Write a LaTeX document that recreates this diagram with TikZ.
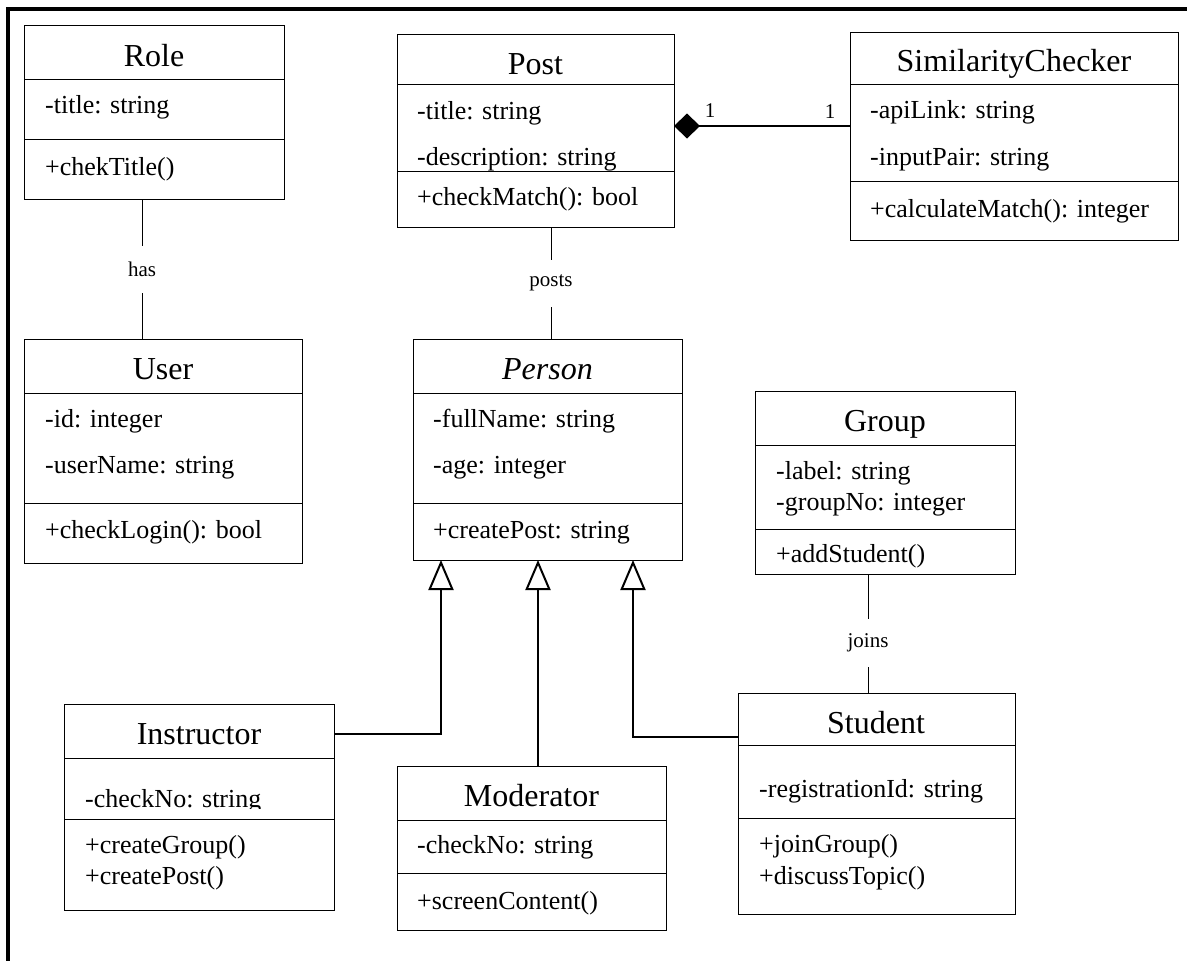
\documentclass[tikz,border=0pt]{standalone}
\usepackage{fontspec}
\setmainfont{Liberation Serif}
\usetikzlibrary{arrows.meta}
\newcommand\umlbox[7]{%
  \node[cls, anchor=north west, minimum width={(#4)-(#2)}, minimum height={(#5)-(#3)}] (#1) at (#2,#3) {};
  \draw[divider] (#2,#6) -- (#4,#6);
  \draw[divider] (#2,#7) -- (#4,#7);%
}
\begin{document}
\begin{tikzpicture}[x=1pt,y=-1pt,
  cls/.style={draw, line width=1pt, inner sep=0pt, outer sep=0pt},
  divider/.style={line width=1pt},
  ctitle/.style={anchor=base, inner sep=0pt, font=\fontsize{32}{38}\selectfont},
  attr/.style={anchor=base west, inner sep=0pt, font=\fontsize{26}{31}\selectfont},
  lbl/.style={fill=white, inner sep=0pt, minimum height=47pt, font=\fontsize{21}{25}\selectfont},
  mult/.style={anchor=base, inner sep=0pt, font=\fontsize{21}{25}\selectfont},
  assoc/.style={line width=1pt},
  gen/.style={line width=2.2pt, -{Triangle[open, length=30pt, width=25pt, line width=2pt]}},
  comp/.style={line width=2.2pt, -{Diamond[length=26pt, width=25pt]}},
  frame/.style={line width=3.5pt}
]
\useasboundingbox (0,0) rectangle (1187,961);
\draw[frame] (8,961) -- (8,9) -- (1187,9);

% Role
\umlbox{role}{24}{25}{284}{199}{79}{139}
\node[ctitle] (role-t) at (154,66) {Role};
\node[attr] (role-a1) at (45,113) {-title: string};
\node[attr] (role-m1) at (45,175) {+chekTitle()};

% User
\umlbox{user}{24}{339}{302}{563}{393}{503}
\node[ctitle] (user-t) at (163,379) {User};
\node[attr] (user-a1) at (45,427) {-id: integer};
\node[attr] (user-a2) at (45,473) {-userName: string};
\node[attr] (user-m1) at (45,538) {+checkLogin(): bool};

% Post
\umlbox{post}{397}{34}{674}{227}{84}{171}
\node[ctitle] (post-t) at (535.5,74) {Post};
\node[attr] (post-a1) at (417,119) {-title: string};
\node[attr] (post-a2) at (417,165) {-description: string};
\node[attr] (post-m1) at (417,205) {+checkMatch(): bool};

% SimilarityChecker
\umlbox{sc}{850}{32}{1178}{240}{84}{181}
\node[ctitle] (sc-t) at (1014,71) {SimilarityChecker};
\node[attr] (sc-a1) at (870,118) {-apiLink: string};
\node[attr] (sc-a2) at (870,165) {-inputPair: string};
\node[attr] (sc-m1) at (870,217) {+calculateMatch(): integer};

% Person
\umlbox{person}{413}{339}{682}{560}{393}{503}
\node[ctitle, font=\fontsize{32}{38}\selectfont\itshape] (person-t) at (547.5,379) {Person};
\node[attr] (person-a1) at (433,427) {-fullName: string};
\node[attr] (person-a2) at (433,473) {-age: integer};
\node[attr] (person-m1) at (433,538) {+createPost: string};

% Group
\umlbox{group}{755}{391}{1015}{574}{445}{529}
\node[ctitle] (group-t) at (885,431) {Group};
\node[attr] (group-a1) at (776,479) {-label: string};
\node[attr] (group-a2) at (776,510) {-groupNo: integer};
\node[attr] (group-m1) at (776,562) {+addStudent()};

% Student
\umlbox{student}{738}{693}{1015}{914}{745}{818}
\node[ctitle] (student-t) at (876,733) {Student};
\node[attr] (student-a1) at (759,797) {-registrationId: string};
\node[attr] (student-m1) at (759,852) {+joinGroup()};
\node[attr] (student-m2) at (759,884) {+discussTopic()};

% Instructor
\umlbox{instr}{64}{704}{334}{910}{758}{819}
\node[ctitle] (instr-t) at (199,744) {Instructor};
\begin{scope}
  \clip (64,758) rectangle (334,808.5);
  \node[attr] (instr-a1) at (85,807) {-checkNo: string};
\end{scope}
\node[attr] (instr-m1) at (85,853) {+createGroup()};
\node[attr] (instr-m2) at (85,884) {+createPost()};

% Moderator
\umlbox{moder}{397}{766}{666}{930}{820}{873}
\node[ctitle] (moder-t) at (531.5,806) {Moderator};
\node[attr] (moder-a1) at (417,853) {-checkNo: string};
\node[attr] (moder-m1) at (417,909) {+screenContent()};

% associations
\coordinate (hasx) at (142,0);
\coordinate (postsx) at (551,0);
\coordinate (joinsx) at (868,0);
\draw[assoc] (role.south -| hasx) -- node[lbl] (has-l) {has} (user.north -| hasx);
\draw[assoc] (post.south -| postsx) -- node[lbl] (posts-l) {posts} (person.north -| postsx);
\draw[assoc] (group.south -| joinsx) -- node[lbl, pos=0.58, minimum height=48pt] (joins-l) {joins} (student.north -| joinsx);

% composition
\coordinate (compy) at (0,126);
\draw[comp] (sc.west |- compy) -- (post.east |- compy);
\node[mult] (mult-post) at (710,117) {1};
\node[mult] (mult-sc) at (830,118) {1};

% generalizations
\coordinate (g1) at (441,0);
\coordinate (g2) at (538,0);
\coordinate (g3) at (633,0);
\coordinate (iy) at (0,734);
\coordinate (sy) at (0,737);
\draw[gen] (instr.east |- iy) -| (person.south -| g1);
\draw[gen] (moder.north -| g2) -- (person.south -| g2);
\draw[gen] (student.west |- sy) -| (person.south -| g3);
\end{tikzpicture}
\end{document}
